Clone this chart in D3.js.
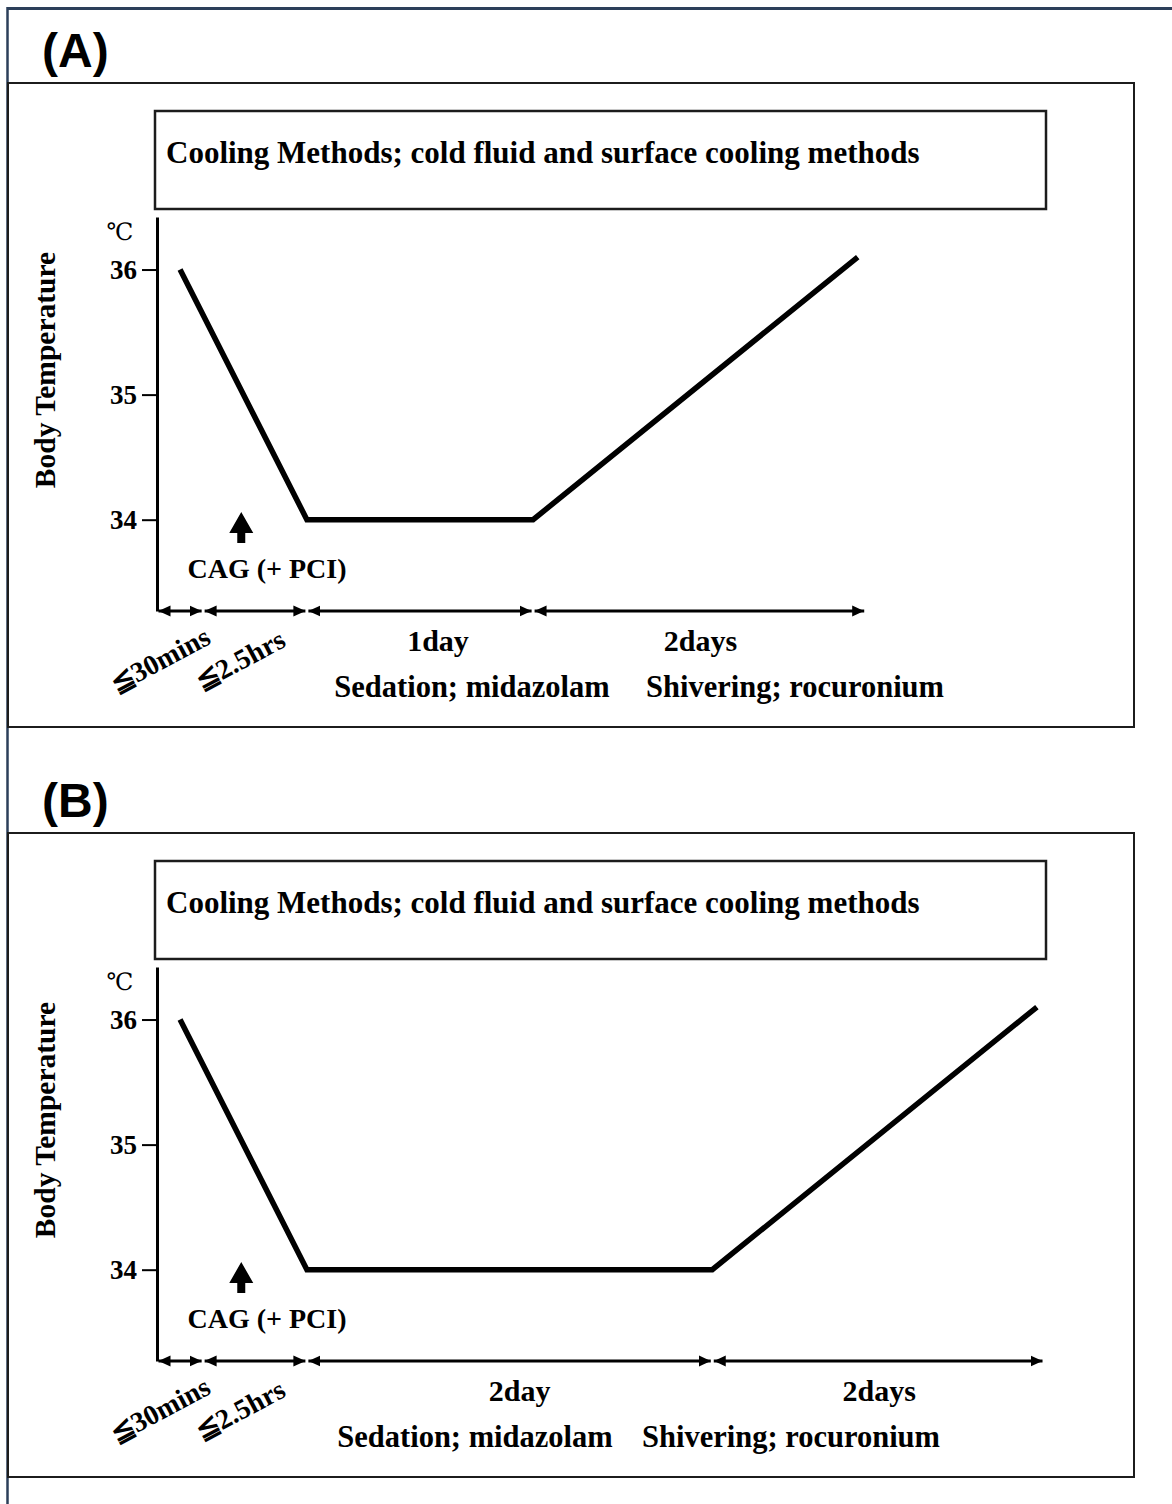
<!DOCTYPE html>
<html>
<head>
<meta charset="utf-8">
<script src="https://cdn.jsdelivr.net/npm/d3@7"></script>
<style>
  html, body { margin: 0; padding: 0; background: #fff; }
  svg { display: block; }
</style>
</head>
<body>
<div id="chart"></div>
<script>
// schematic time runs 0..100 along the horizontal arrow axis
var panelNames = ['(A)', '(B)'];
var yTicks = [34, 35, 36];
var tempExtent = [33.27, 36.42];
var coolingLabel = 'Cooling Methods; cold fluid and surface cooling methods';
var eventLabel = 'CAG (+ PCI)';
var eventTime = 9.5;
var drugLabels = ['Sedation; midazolam', 'Shivering; rocuronium'];
var phaseLabels = [
    ['≦30mins', '≦2.5hrs', '1day', '2days'],
    ['≦30mins', '≦2.5hrs', '2day', '2days']
];
var phaseBounds = [
    [0, 5.2, 16.9, 42.4, 79.9],
    [0, 5.2, 16.9, 62.6, 100]
];
var curveTimes = [
    [2.6, 16.9, 42.4, 79.0],
    [2.6, 16.9, 62.6, 99.2]
];
var curveTemps = [36, 34, 34, 36.1];

var W = 1172, H = 1504;
var serif = '"Liberation Serif", "Times New Roman", serif';
var frameColor = '#2c3f5a';

var svg = d3.select('#chart').append('svg')
    .attr('width', W)
    .attr('height', H);

var defs = svg.append('defs');
defs.append('marker')
    .attr('id', 'head')
    .attr('viewBox', '0 -6 12 12')
    .attr('refX', 12)
    .attr('refY', 0)
    .attr('markerUnits', 'userSpaceOnUse')
    .attr('markerWidth', 12)
    .attr('markerHeight', 12)
    .attr('orient', 'auto-start-reverse')
    .append('path')
    .attr('d', 'M0,-5.5L12,0L0,5.5Z')
    .attr('fill', '#000');

// outer frame (top + left only)
svg.append('line')
    .attr('x1', 7.5).attr('x2', W).attr('y1', 8.5).attr('y2', 8.5)
    .attr('stroke', frameColor).attr('stroke-width', 3);
svg.append('line')
    .attr('x1', 7.5).attr('x2', 7.5).attr('y1', 7).attr('y2', H)
    .attr('stroke', frameColor).attr('stroke-width', 2.5);

function drawPanel(idx) {
    var g = svg.append('g').attr('transform', 'translate(0,' + (idx * 750) + ')');

    var x = d3.scaleLinear().domain([0, 100]).range([157, 1044]);
    var y = d3.scaleLinear().domain(tempExtent).range([611, 217]);

    g.append('rect')
        .attr('x', 8).attr('y', 83)
        .attr('width', 1126).attr('height', 644)
        .attr('fill', 'none')
        .attr('stroke', '#1c1c1c')
        .attr('stroke-width', 2);

    g.append('text')
        .attr('x', 42).attr('y', 67)
        .attr('font-family', '"Liberation Sans", Arial, sans-serif')
        .attr('font-weight', 'bold')
        .attr('font-size', 48)
        .text(panelNames[idx]);

    g.append('rect')
        .attr('x', 155).attr('y', 111)
        .attr('width', 891).attr('height', 98)
        .attr('fill', 'none')
        .attr('stroke', '#1c1c1c')
        .attr('stroke-width', 2.5);

    g.append('text')
        .attr('x', 166).attr('y', 163)
        .attr('font-family', serif)
        .attr('font-weight', 'bold')
        .attr('font-size', 31)
        .text(coolingLabel);

    // y axis
    var axis = g.append('g')
        .attr('transform', 'translate(157,0)')
        .call(d3.axisLeft(y)
            .tickValues(yTicks)
            .tickSize(15)
            .tickSizeOuter(0)
            .tickPadding(5)
            .tickFormat(d3.format('d')));
    axis.select('.domain').attr('stroke', '#000').attr('stroke-width', 3);
    axis.selectAll('.tick line').attr('stroke', '#000').attr('stroke-width', 2);
    axis.selectAll('.tick text')
        .attr('font-family', serif)
        .attr('font-weight', 'bold')
        .attr('font-size', 27)
        .attr('fill', '#000');

    g.append('text')
        .attr('x', 120).attr('y', 232)
        .attr('text-anchor', 'middle')
        .attr('dominant-baseline', 'central')
        .attr('font-family', '"DejaVu Serif", serif')
        .attr('font-size', 24)
        .text('℃');

    g.append('text')
        .attr('transform', 'translate(55,370) rotate(-90)')
        .attr('text-anchor', 'middle')
        .attr('font-family', serif)
        .attr('font-weight', 'bold')
        .attr('font-size', 29.5)
        .text('Body Temperature');

    // temperature curve
    var pts = curveTimes[idx].map(function (t, i) { return [t, curveTemps[i]]; });
    g.append('path')
        .datum(pts)
        .attr('d', d3.line()
            .x(function (d) { return x(d[0]); })
            .y(function (d) { return y(d[1]); }))
        .attr('fill', 'none')
        .attr('stroke', '#000')
        .attr('stroke-width', 5.5)
        .attr('stroke-linejoin', 'miter');

    // CAG arrow
    var ax = x(eventTime);
    g.append('path')
        .attr('d', 'M' + ax + ',512 L' + (ax + 12) + ',533 L' + (ax + 4) + ',533 L' + (ax + 4) + ',543 L' +
            (ax - 4) + ',543 L' + (ax - 4) + ',533 L' + (ax - 12) + ',533 Z')
        .attr('fill', '#000');
    g.append('text')
        .attr('x', 267).attr('y', 578)
        .attr('text-anchor', 'middle')
        .attr('font-family', serif)
        .attr('font-weight', 'bold')
        .attr('font-size', 28)
        .text(eventLabel);

    // phase arrows along the time axis
    var bounds = phaseBounds[idx];
    var phases = phaseLabels[idx].map(function (lab, i) {
        return { label: lab, t0: bounds[i], t1: bounds[i + 1] };
    });
    g.selectAll('.phase')
        .data(phases)
        .enter().append('line')
        .attr('class', 'phase')
        .attr('x1', function (d) { return x(d.t0) + 1.5; })
        .attr('x2', function (d) { return x(d.t1) - 1.5; })
        .attr('y1', 611).attr('y2', 611)
        .attr('stroke', '#000')
        .attr('stroke-width', 3)
        .attr('marker-start', 'url(#head)')
        .attr('marker-end', 'url(#head)');

    var tilt = [-20, -15];
    g.selectAll('.phase-label')
        .data(phases)
        .enter().append('text')
        .attr('class', 'phase-label')
        .attr('font-family', serif)
        .attr('font-weight', 'bold')
        .attr('font-size', function (d, i) { return i < 2 ? 28 : 30; })
        .attr('text-anchor', 'middle')
        .attr('transform', function (d, i) {
            var cx = (x(d.t0) + x(d.t1)) / 2;
            if (i < 2) {
                return 'translate(' + (cx + tilt[i]) + ',660) rotate(-28)';
            }
            return 'translate(' + (cx + (i === 2 ? (idx ? 10 : 18) : 1)) + ',651)';
        })
        .attr('dominant-baseline', function (d, i) { return i < 2 ? 'central' : 'auto'; })
        .text(function (d) { return d.label; });

    g.selectAll('.drug')
        .data(drugLabels)
        .enter().append('text')
        .attr('class', 'drug')
        .attr('x', function (d, i) { return [472, 795][i] + (idx ? (i ? -4 : 3) : 0); })
        .attr('y', 697)
        .attr('text-anchor', 'middle')
        .attr('font-family', serif)
        .attr('font-weight', 'bold')
        .attr('font-size', 30.5)
        .text(function (d) { return d; });
}

panelNames.forEach(function (d, i) { drawPanel(i); });
</script>
</body>
</html>
